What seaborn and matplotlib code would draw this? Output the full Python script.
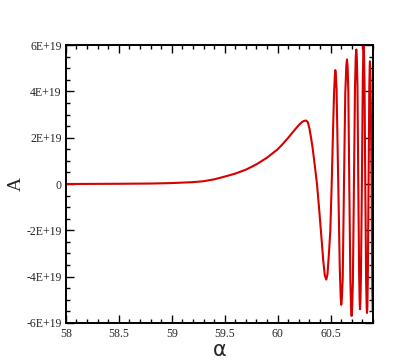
import numpy as np
import pandas as pd
import matplotlib
matplotlib.use("Agg")
import matplotlib.pyplot as plt
import seaborn as sns
from matplotlib.ticker import MultipleLocator

# ==========================================
# DATA (A in units of 1E+19)
# ==========================================
alpha = [58.0, 58.5, 58.8, 59.0, 59.2, 59.3, 59.4, 59.5, 59.6, 59.7,
         59.8, 59.9, 60.0, 60.05, 60.1, 60.15, 60.2, 60.23, 60.25, 60.27,
         60.285, 60.30, 60.315, 60.33, 60.345, 60.358, 60.371, 60.39, 60.41,
         60.43, 60.445, 60.459, 60.47, 60.484, 60.497, 60.51, 60.522, 60.532,
         60.54, 60.544, 60.549, 60.556, 60.572, 60.586, 60.595, 60.600, 60.606,
         60.614, 60.626, 60.638, 60.648, 60.654, 60.660, 60.667, 60.676, 60.686,
         60.693, 60.698, 60.703, 60.710, 60.720, 60.730, 60.737, 60.742, 60.747,
         60.753, 60.761, 60.769, 60.774, 60.777, 60.781, 60.786, 60.795, 60.803,
         60.808, 60.811, 60.815, 60.820, 60.827, 60.835, 60.840, 60.843, 60.847,
         60.851, 60.858, 60.865, 60.869, 60.871, 60.874, 60.879, 60.887, 60.893,
         60.897]
A = [0.0, 0.01, 0.02, 0.04, 0.08, 0.12, 0.2, 0.32, 0.45, 0.62,
     0.85, 1.14, 1.5, 1.74, 2.0, 2.28, 2.55, 2.68, 2.73, 2.74,
     2.66, 2.4, 2.0, 1.55, 1.0, 0.5, 0.0, -1.0, -2.13,
     -3.3, -3.95, -4.13, -3.9, -3.0, -2.0, 0.0, 2.2, 3.9,
     4.7, 4.92, 4.75, 4.1, 0.0, -3.6, -4.9, -5.22, -4.95,
     -4.1, 0.0, 3.9, 5.1, 5.38, 5.1, 4.0, 0.0, -4.1,
     -5.4, -5.70, -5.4, -4.2, 0.0, 4.2, 5.5, 5.81, 5.5,
     4.3, 0.0, -3.9, -5.1, -5.41, -5.1, -4.0, 0.0, 4.3,
     5.6, 5.96, 5.6, 4.3, 0.0, -4.2, -5.3, -5.57, -5.3,
     -4.1, 0.0, 4.2, 5.1, 5.3, 5.0, 3.6, 0.0, -4.5,
     -5.5]

x_ticks = [58, 58.5, 59, 59.5, 60, 60.5]
x_labels = ["58", "58.5", "59", "59.5", "60", "60.5"]
y_ticks = [-6e19, -4e19, -2e19, 0, 2e19, 4e19, 6e19]
y_labels = ["-6E+19", "-4E+19", "-2E+19", "0", "2E+19", "4E+19", "6E+19"]

df = pd.DataFrame({"alpha": alpha, "A": np.array(A) * 1e19})

# ==========================================
# PLOT
# ==========================================
sns.set_style("ticks")
plt.rcParams["font.family"] = ["Liberation Serif", "DejaVu Serif"]

fig = plt.figure(figsize=(4.09, 3.64), dpi=100)
ax = fig.add_axes([0.161, 0.113, 0.751, 0.763])

sns.lineplot(data=df, x="alpha", y="A", ax=ax, color="#d60000",
             linewidth=1.5, sort=False, estimator=None)

ax.set_xlim(58, 60.9)
ax.set_ylim(-6e19, 6e19)
ax.set_xticks(x_ticks, x_labels)
ax.set_yticks(y_ticks, y_labels)
ax.xaxis.set_minor_locator(MultipleLocator(0.1))
ax.yaxis.set_minor_locator(MultipleLocator(0.5e19))

ax.tick_params(which="both", direction="in", top=True, right=True,
               labelsize=8.5, width=1.0, color="black")
ax.tick_params(axis="y", pad=3)
ax.tick_params(axis="x", pad=3.5)
ax.tick_params(which="major", length=6)
ax.tick_params(which="minor", length=3)
for s in ax.spines.values():
    s.set_linewidth(1.4)
    s.set_color("black")

ax.set_xlabel("α", fontsize=15, family=["DejaVu Sans"], labelpad=0.5)
ax.set_ylabel("A", fontsize=14, labelpad=1)

fig.savefig("out.png", dpi=100)
